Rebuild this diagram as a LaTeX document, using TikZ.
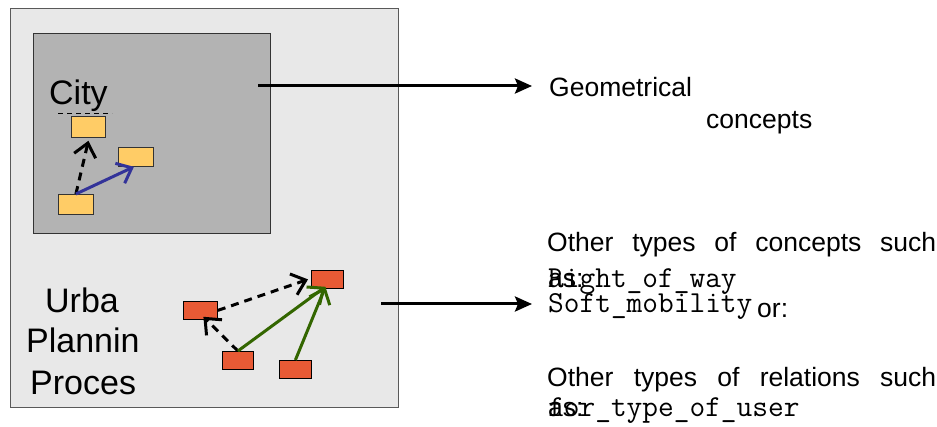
\documentclass[tikz,border=0pt]{standalone}
\usepackage{fontspec}
\setmainfont{Liberation Sans}
\usetikzlibrary{arrows.meta}
\definecolor{outerbg}{HTML}{E8E8E8}
\definecolor{innerbg}{HTML}{B3B3B3}
\definecolor{yel}{HTML}{FFCC66}
\definecolor{redbox}{HTML}{E85A35}
\definecolor{bluearr}{HTML}{333399}
\definecolor{greenarr}{HTML}{336600}
\tikzset{
  panel/.style={draw=#1, line width=1pt, anchor=north west, inner sep=0pt},
  ybox/.style={draw=black!80, fill=yel, line width=0.8pt, anchor=north west, inner sep=0pt},
  rbox/.style={draw=black, fill=redbox, line width=0.8pt, anchor=north west, inner sep=0pt},
  bigtxt/.style={anchor=base west, inner sep=0pt, font=\fontsize{34}{40}\selectfont},
  rtxt/.style={anchor=base west, inner sep=0pt, font=\fontsize{26.5}{30}\selectfont},
  mtxt/.style={anchor=base west, inner sep=0pt, font=\fontsize{30.5}{34}\selectfont\ttfamily},
  bigarrow/.style={line width=3pt, -{Stealth[length=17pt,width=15pt,inset=3pt]}},
  barb/.style={line width=3pt, -{Straight Barb[length=13pt,width=22pt,line width=3pt]}},
  dasharrow/.style={barb, dash pattern=on 8pt off 6pt},
}
\begin{document}
\begin{tikzpicture}[x=1pt,y=-1pt]
\useasboundingbox (0,0) rectangle (937,427);
\fill[white] (0,0) rectangle (937,427);
% panels
\node[panel=black!65, fill=outerbg, minimum width=388pt, minimum height=399pt] (outer) at (10,8) {};
\node[panel=black!80, fill=innerbg, minimum width=237pt, minimum height=200pt] (inner) at (33,33) {};
% City
\node[bigtxt] (city) at (49,105) {City};
\draw[black, line width=0.5pt, dash pattern=on 5pt off 4pt] (58,113) coordinate (ul1) -- (112,113) coordinate (ul2);
% yellow boxes
\node[ybox, minimum width=34pt, minimum height=21pt] (y1) at (71,116) {};
\node[ybox, minimum width=35pt, minimum height=19pt] (y2) at (118,147) {};
\node[ybox, minimum width=35pt, minimum height=20pt] (y3) at (58,194) {};
\draw[dasharrow] (y3.north) -- ([yshift=-3pt]y1.south);
\draw[barb, bluearr] (y3.north) -- ([xshift=-2pt]y2.south);
% Urban planning text
\node[bigtxt] (t1) at (45,313) {Urba};
\node[bigtxt] (t2) at (26,353) {Plannin};
\node[bigtxt] (t3) at (30,395) {Proces};
% red boxes
\node[rbox, minimum width=34pt, minimum height=18pt] (ra) at (183,301) {};
\node[rbox, minimum width=32pt, minimum height=18pt] (rb) at (311,270) {};
\node[rbox, minimum width=31pt, minimum height=18pt] (rc) at (222,351) {};
\node[rbox, minimum width=32pt, minimum height=18pt] (rd) at (279,360) {};
\draw[dasharrow] (ra.east) -- ([xshift=-3pt]rb.west);
\draw[dasharrow] (rc.north) -- ([shift={(3pt,3pt)}]ra.south);
\draw[barb, greenarr] (rc.north) -- ([shift={(-2pt,2pt)}]rb.south);
\draw[barb, greenarr] (rd.north) -- ([shift={(-2pt,2pt)}]rb.south);
% right texts
\node[rtxt] (geo) at (549,97) {Geometrical};
\node[rtxt] (conc) at (706,129) {concepts};
\node[rtxt] (oth1) at (547,252) {\makebox[389pt][s]{Other types of concepts such}};
\node[rtxt] (as1) at (548,288) {as:};
\node[mtxt] (row) at (548,288) {Right\_of\_way};
\node[mtxt] (soft) at (548,313) {Soft\_mobility};
\node[rtxt] (or) at (757,318) {or:};
\node[rtxt] (oth2) at (547,387) {\makebox[389pt][s]{Other types of relations such}};
\node[rtxt] (as2) at (548,417) {as:};
\node[mtxt] (fort) at (548,417) {for\_type\_of\_user};
% big arrows
\coordinate (s1) at (258,86);
\coordinate (e1) at (532,86);
\coordinate (s2) at (381,304);
\coordinate (e2) at (532,304);
\draw[bigarrow] (s1) -- (e1);
\draw[bigarrow] (s2) -- (e2);
\end{tikzpicture}
\end{document}
